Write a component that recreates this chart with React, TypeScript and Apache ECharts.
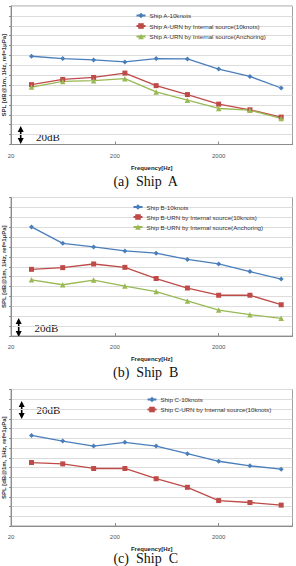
import React, { useEffect, useRef } from "react";
import * as echarts from "echarts";

// Octave-band centre frequencies (Hz)
const frequencies = [31.5, 63, 125, 250, 500, 1000, 2000, 4000, 8000];

// SPL values (dB) per ship and condition
const shipA10knots = [149.2, 146.9, 145.5, 143.5, 146.9, 146.5, 136.2, 128.8, 117.1];
const shipAInternal10 = [120.5, 125.8, 127.8, 132.2, 119.5, 110.5, 100.8, 95.1, 87.7];
const shipAInternalAnchor = [118.1, 123.8, 124.5, 126.5, 113.1, 104.8, 96.4, 94.7, 86.4];

const shipB10knots = [170.3, 153.7, 150.0, 146.0, 143.7, 137.4, 132.8, 125.1, 117.5];
const shipBInternal10 = [127.4, 129.1, 132.8, 129.4, 118.1, 108.5, 101.2, 101.2, 91.6];
const shipBInternalAnchor = [116.8, 111.8, 116.5, 110.5, 104.9, 95.5, 86.2, 81.6, 77.9];

const shipC10knots = [152.9, 147.1, 142.0, 145.8, 142.0, 134.2, 126.4, 121.7, 118.3];
const shipCInternal10 = [125.1, 123.7, 119.0, 119.0, 108.5, 99.7, 86.1, 84.1, 81.4];

const xTickBase = 20; // first labelled frequency; axis runs in decades above it
const yMin = 60;
const yMax = 200;

const BLUE = "#4a7ebb";
const RED = "#be4b48";
const GREEN = "#98b954";
const SANS = "Liberation Sans, Arial, sans-serif";
const SERIF = "Liberation Serif, Times New Roman, serif";

const toXY = (vals: number[]) =>
  frequencies.map((f, i) => [Math.log10(f / xTickBase), vals[i]]);

type Panel = {
  top: number;
  height: number;
  caption: string;
  captionY: number;
  legendLeft: number;
  legendTop: number;
  legendGap: number;
  series: { name: string; data: number[]; color: string; symbol: string }[];
  arrow: { x: number; y1: number; y2: number; tx: number; ty: number };
};

const panels: Panel[] = [
  {
    top: 6,
    height: 138.5,
    caption: "(a)  Ship  A",
    captionY: 181.5,
    legendLeft: 135.5,
    legendTop: 12.5,
    legendGap: 4.5,
    series: [
      { name: "Ship A-10knots", data: shipA10knots, color: BLUE, symbol: "diamond" },
      { name: "Ship A-URN by Internal source(10knots)", data: shipAInternal10, color: RED, symbol: "rect" },
      { name: "Ship A-URN by Internal source(Anchoring)", data: shipAInternalAnchor, color: GREEN, symbol: "triangle" },
    ],
    arrow: { x: 20.7, y1: 126, y2: 144, tx: 36, ty: 136.5 },
  },
  {
    top: 197.5,
    height: 138.5,
    caption: "(b)  Ship  B",
    captionY: 372.5,
    legendLeft: 132.5,
    legendTop: 204,
    legendGap: 4,
    series: [
      { name: "Ship B-10knots", data: shipB10knots, color: BLUE, symbol: "diamond" },
      { name: "Ship B-URN by Internal source(10knots)", data: shipBInternal10, color: RED, symbol: "rect" },
      { name: "Ship B-URN by Internal source(Anchoring)", data: shipBInternalAnchor, color: GREEN, symbol: "triangle" },
    ],
    arrow: { x: 18.7, y1: 318, y2: 337, tx: 34.5, ty: 328.3 },
  },
  {
    top: 389.5,
    height: 136.5,
    caption: "(c)  Ship  C",
    captionY: 558.5,
    legendLeft: 146.5,
    legendTop: 396.5,
    legendGap: 4,
    series: [
      { name: "Ship C-10knots", data: shipC10knots, color: BLUE, symbol: "diamond" },
      { name: "Ship C-URN by Internal source(10knots)", data: shipCInternal10, color: RED, symbol: "rect" },
    ],
    arrow: { x: 21.7, y1: 401, y2: 419, tx: 36.5, ty: 410 },
  },
];

function arrowGraphics(a: Panel["arrow"]) {
  const hw = 3;
  const hh = 6;
  return [
    {
      type: "line",
      shape: { x1: a.x, y1: a.y1 + hh - 1, x2: a.x, y2: a.y2 - hh + 1 },
      style: { stroke: "#000", lineWidth: 1.6 },
    },
    {
      type: "polygon",
      shape: { points: [[a.x - hw, a.y1 + hh], [a.x + hw, a.y1 + hh], [a.x, a.y1]] },
      style: { fill: "#000" },
    },
    {
      type: "polygon",
      shape: { points: [[a.x - hw, a.y2 - hh], [a.x + hw, a.y2 - hh], [a.x, a.y2]] },
      style: { fill: "#000" },
    },
    {
      type: "text",
      x: a.tx,
      y: a.ty,
      style: {
        text: "20dB",
        font: `11px ${SERIF}`,
        fill: "#111",
        verticalAlign: "middle",
        align: "left",
      },
    },
  ];
}

export default function App() {
  const ref = useRef<HTMLDivElement>(null);

  useEffect(() => {
    if (!ref.current) return;
    const chart = echarts.init(ref.current, undefined, { renderer: "svg" });

    const xMax = 2.711;

    const grid = panels.map((p) => ({
      left: 11,
      top: p.top,
      width: 281.5,
      height: p.height,
      containLabel: false,
      outerBoundsMode: "none",
      show: true,
      borderColor: "#a0a0a0",
      borderWidth: 1,
      backgroundColor: "transparent",
    }));

    const xAxis = panels.map((_, i) => ({
      type: "value",
      gridIndex: i,
      min: 0,
      max: xMax,
      interval: 1,
      name: "Frequency[Hz]",
      nameLocation: "middle",
      nameGap: 20,
      nameTextStyle: { fontFamily: SANS, fontSize: 6, fontWeight: "bold", color: "#222" },
      axisLine: { show: true, lineStyle: { color: "#8c8c8c", width: 1 } },
      axisTick: { show: true, inside: true, length: 3, lineStyle: { color: "#8c8c8c" } },
      splitLine: { show: false },
      showMaxLabel: false,
      axisLabel: {
        fontFamily: SANS,
        fontSize: 6,
        color: "#555",
        margin: 8,
        formatter: (v: number) =>
          Math.abs(v - Math.round(v)) < 1e-9 ? String(Math.round(xTickBase * Math.pow(10, v))) : "",
      },
    }));

    const yAxis = panels.map((_, i) => ({
      type: "value",
      gridIndex: i,
      min: yMin,
      max: yMax,
      interval: 10,
      name: "SPL [dB@1m, 1Hz, ref=1μPa]",
      nameLocation: "middle",
      nameRotate: 90,
      nameGap: 4,
      nameTextStyle: { fontFamily: SANS, fontSize: 6, fontWeight: "bold", color: "#333" },
      axisLine: { show: true, lineStyle: { color: "#8c8c8c", width: 1 } },
      axisTick: { show: true, length: 2, lineStyle: { color: "#8c8c8c" } },
      axisLabel: { show: false },
      splitLine: { show: true, lineStyle: { color: "#dcdcdc", width: 1 } },
    }));

    const series: any[] = [];
    panels.forEach((p, i) => {
      p.series.forEach((s) => {
        series.push({
          type: "line",
          name: s.name,
          xAxisIndex: i,
          yAxisIndex: i,
          data: toXY(s.data),
          symbol: s.symbol,
          symbolSize: s.symbol === "diamond" ? 5 : s.symbol === "rect" ? 5 : 5.5,
          showSymbol: true,
          lineStyle: { color: s.color, width: 1.3 },
          itemStyle: { color: s.color },
        });
      });
    });

    const legend = panels.map((p) => ({
      data: p.series.map((s) => s.name),
      orient: "vertical",
      left: p.legendLeft,
      top: p.legendTop,
      itemWidth: 9,
      itemHeight: 7,
      itemGap: p.legendGap,
      padding: 0,
      selectedMode: false,
      textStyle: { fontFamily: SANS, fontSize: 6.2, color: "#333", padding: [0, 0, 0, -1] },
    }));

    const graphic: any[] = [];
    panels.forEach((p) => {
      graphic.push(...arrowGraphics(p.arrow));
      graphic.push({
        type: "text",
        x: 145.7,
        y: p.captionY,
        style: {
          text: p.caption,
          font: `14px ${SERIF}`,
          fill: "#111",
          align: "center",
          verticalAlign: "middle",
        },
      });
    });

    chart.setOption({
      animation: false,
      backgroundColor: "#fff",
      grid,
      xAxis,
      yAxis,
      legend,
      series,
      graphic,
    });

    return () => chart.dispose();
  }, []);

  return (
    <div
      ref={ref}
      style={{ position: "fixed", left: 0, top: 0, width: 296, height: 566 }}
    />
  );
}
